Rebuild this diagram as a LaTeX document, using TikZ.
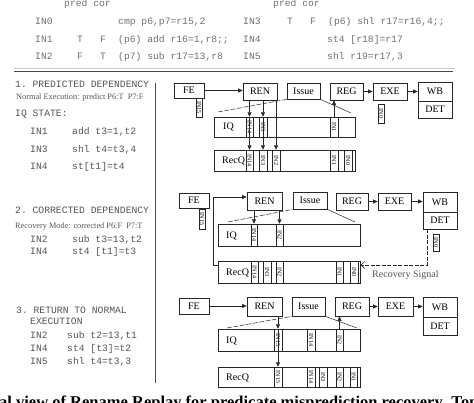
\documentclass[tikz,border=0pt]{standalone}
\usepackage{fontspec}
\usepackage{graphicx}
\setmainfont{Liberation Serif}
\setmonofont{Liberation Mono}
\usetikzlibrary{arrows.meta}
\definecolor{topgray}{HTML}{707070}
\definecolor{txtgray}{HTML}{555555}
\definecolor{boxline}{HTML}{262626}
\newcommand\bx[7]{\node[#1, minimum width={(#5-#3)*1pt}, minimum height={(#6-#4)*1pt}] (#2) at ({(#3+#5)/2},{(#4+#6)/2}) {#7};}
\newcommand\qslot[6]{\node[slot, minimum width={(#4-#2)*1pt}, minimum height={(#5-#3)*1pt}] (#1) at ({(#2+#4)/2},{(#3+#5)/2}) {\rotatebox{-90}{#6}};}
\tikzset{
  stage/.style={draw=boxline, line width=0.7pt, inner sep=0pt, font=\fontsize{10}{10}\selectfont},
  queue/.style={draw=boxline, line width=0.7pt, inner sep=0pt},
  qlabel/.style={anchor=west, inner sep=0pt, font=\fontsize{10}{10}\selectfont},
  slot/.style={draw=boxline, line width=0.5pt, inner sep=0pt, fill=white, font=\fontsize{6}{6}\selectfont},
  arr/.style={line width=0.6pt, draw=boxline, -{Triangle[length=4.5pt,width=4pt]}},
  funnel/.style={line width=0.5pt, draw=boxline},
  dfunnel/.style={line width=0.5pt, draw=boxline, dash pattern=on 5pt off 1.5pt},
  toptxt/.style={font=\ttfamily\fontsize{9.7}{10}\selectfont, text=topgray, inner sep=0pt, anchor=base west},
  lefttxt/.style={font=\ttfamily\fontsize{9.7}{10}\selectfont, text=txtgray, inner sep=0pt, anchor=base west},
  smalltxt/.style={font=\fontsize{8.3}{9}\selectfont, text=txtgray, inner sep=0pt, anchor=base west},
}
\begin{document}
\begin{tikzpicture}[x=1pt,y=-1pt]
\useasboundingbox (0,0) rectangle (474,402);
\fill[white] (0,0) rectangle (474,402);

% ---------- top code listing ----------
\node[toptxt] (pc1) at (64,6) {pred cor};
\node[toptxt] (pc2) at (273,6) {pred cor};
\node[toptxt] (t0) at (35,24.5) {IN0};
\node[toptxt] (t0c) at (118,24.5) {cmp p6,p7=r15,2};
\node[toptxt] (t1) at (35,42) {IN1};
\node[toptxt] (t1p) at (77,42) {T};
\node[toptxt] (t1q) at (100,42) {F};
\node[toptxt] (t1c) at (118,42) {(p6) add r16=1,r8;;};
\node[toptxt] (t2) at (35,59) {IN2};
\node[toptxt] (t2p) at (77,59) {F};
\node[toptxt] (t2q) at (100,59) {T};
\node[toptxt] (t2c) at (118,59) {(p7) sub r17=13,r8};
\node[toptxt] (t3) at (243,24.5) {IN3};
\node[toptxt] (t3p) at (287,24.5) {T};
\node[toptxt] (t3q) at (310,24.5) {F};
\node[toptxt] (t3c) at (328,24.5) {(p6) shl r17=r16,4;;};
\node[toptxt] (t4) at (243,42) {IN4};
\node[toptxt] (t4c) at (327,42) {st4 [r18]=r17};
\node[toptxt] (t5) at (243,59) {IN5};
\node[toptxt] (t5c) at (327,59) {shl r19=r17,3};
\coordinate (gl1) at (14,68);
\coordinate (gl2) at (455,68);
\draw[gray!45, line width=0.6pt] (gl1) -- (gl2);
\coordinate (dl1) at (14,71.5);
\coordinate (dl2) at (453,71.5);
\draw[boxline!85, line width=1.3pt] (dl1) -- (dl2);
\coordinate (vl1) at (155,83);
\coordinate (vl2) at (155,383);
\draw[boxline!80, line width=0.9pt] (vl1) -- (vl2);

% ---------- left panels ----------
\node[lefttxt] (h1) at (15,87) {1. PREDICTED DEPENDENCY};
\node[smalltxt] (s1) at (16,99.5) {Normal Execution: predict P6:T\enspace P7:F};
\node[lefttxt] (h1b) at (15,116) {IQ STATE:};
\node[lefttxt] (a1) at (30,134.5) {IN1};
\node[lefttxt] (a1c) at (72,134.5) {add t3=1,t2};
\node[lefttxt] (a2) at (30,152) {IN3};
\node[lefttxt] (a2c) at (72,152) {shl t4=t3,4};
\node[lefttxt] (a3) at (30,169) {IN4};
\node[lefttxt] (a3c) at (72,169) {st[t1]=t4};

\node[lefttxt] (h2) at (15,213.5) {2. CORRECTED DEPENDENCY};
\node[smalltxt] (s2) at (15,228.5) {Recovery Mode: corrected P6:F\enspace P7:T};
\node[lefttxt] (b1) at (30,242) {IN2};
\node[lefttxt] (b1c) at (72,242) {sub t3=13,t2};
\node[lefttxt] (b2) at (30,254.5) {IN4};
\node[lefttxt] (b2c) at (72,254.5) {st4 [t1]=t3};

\node[lefttxt] (h3) at (16,313) {3. RETURN TO NORMAL};
\node[lefttxt] (h3b) at (30,324) {EXECUTION};
\node[lefttxt] (c1) at (30,338) {IN2};
\node[lefttxt] (c1c) at (67,338) {sub t2=13,t1};
\node[lefttxt] (c2) at (30,351) {IN4};
\node[lefttxt] (c2c) at (67,351) {st4 [t3]=t2};
\node[lefttxt] (c3) at (30,364.5) {IN5};
\node[lefttxt] (c3c) at (67,364.5) {shl t4=t3,3};

% ---------- diagram 1 ----------
\bx{stage}{fe1}{174}{83}{204}{98}{FE}
\bx{stage}{ren1}{243}{83}{277}{100}{REN}
\bx{stage}{iss1}{287}{83}{320}{99}{Issue}
\bx{stage}{reg1}{330}{83}{363}{100}{REG}
\bx{stage}{exe1}{373}{83}{407}{100}{EXE}
\bx{stage}{wb1}{418}{82}{452}{101}{WB}
\bx{stage}{det1}{418}{101}{452}{118}{DET}
\qslot{in15a}{196}{98}{202}{117}{IN15}
\qslot{in0a}{378}{104}{384}{123}{IN0}
\bx{queue}{iq1}{214}{117}{355}{137}{}
\node[qlabel] (iq1l) at (223,127) {IQ};
\bx{queue}{rq1}{214}{150}{355}{171}{}
\node[qlabel] (rq1l) at (222,160.5) {RecQ};
\qslot{iq1s14}{246}{117}{253}{137}{IN14}
\qslot{iq1s3}{259}{117}{267}{137}{IN3}
\qslot{iq1s1}{330}{117}{338}{137}{IN1}
\qslot{rq1s14}{246}{150}{253}{171}{IN14}
\qslot{rq1s3}{259}{150}{267}{171}{IN3}
\qslot{rq1s2}{272}{150}{280}{171}{IN2}
\qslot{rq1s1}{330}{150}{338}{171}{IN1}
\qslot{rq1s0}{344}{150}{352}{171}{IN0}
\draw[arr] (fe1.east) -- (fe1.east -| ren1.west);
\draw[arr] (reg1.east) -- (exe1.west);
\draw[arr] (exe1.east) -- (exe1.east -| wb1.west);
\draw[arr] (ren1.south -| iq1s14) -- (iq1s14.north);
\draw[arr] (iq1s14.north) -- (rq1s14.north);
\draw[arr] (ren1.south -| iq1s3) -- (iq1s3.north);
\draw[arr] (iq1s3.north) -- (rq1s3.north);
\draw[arr] (ren1.south -| rq1s2) -- (rq1s2.north);
\draw[arr] (iq1s1.north) -- (iq1s1.north |- reg1.south);
\coordinate (f1l) at (218,112);
\coordinate (f1r) at (351,113);
\draw[dfunnel] (f1l) -- (iss1.south west);
\draw[funnel] (iss1.south east) -- (f1r);

% ---------- diagram 2 ----------
\bx{stage}{fe2}{179}{193}{209}{208}{FE}
\bx{stage}{ren2}{247}{192}{282}{210}{REN}
\bx{stage}{iss2}{293}{192}{327}{209}{Issue}
\bx{stage}{reg2}{336}{193}{368}{210}{REG}
\bx{stage}{exe2}{378}{193}{411}{210}{EXE}
\bx{stage}{wb2}{423}{192}{457}{212}{WB}
\bx{stage}{det2}{423}{212}{457}{229}{DET}
\qslot{in15b}{199}{209}{205}{229}{IN15}
\qslot{in0b}{433}{234}{439}{251}{IN0}
\bx{queue}{iq2}{218}{224}{360}{246}{}
\node[qlabel] (iq2l) at (226,236) {IQ};
\bx{queue}{rq2}{218}{261}{360}{283}{}
\node[qlabel] (rq2l) at (226,272.5) {RecQ};
\qslot{iq2s14}{251}{224}{257}{246}{IN14}
\qslot{iq2s2}{276}{224}{283}{246}{IN2}
\qslot{rq2s14}{251}{261}{258}{283}{IN14}
\qslot{rq2s3}{263}{261}{271}{283}{IN3}
\qslot{rq2s2}{276}{261}{283}{283}{IN2}
\qslot{rq2s1}{336}{261}{343}{283}{IN1}
\qslot{rq2s0}{350}{261}{358}{283}{IN0}
\draw[arr] (reg2.east) -- (exe2.west);
\draw[arr] (exe2.east) -- (exe2.east -| wb2.west);
\draw[arr] (ren2.south -| iq2s14) -- (iq2s14.north);
\draw[arr] (ren2.south -| iq2s2) -- (iq2s2.north);
\coordinate (l2a) at (213,265);
\coordinate (l2b) at (213,197);
\draw[arr] (rq2.west |- l2a) -- (l2a) -- (l2b) -- (l2b -| ren2.west);
\coordinate (r2a) at (427,265);
\draw[line width=0.6pt, draw=boxline, dash pattern=on 4pt off 1.5pt, -{Straight Barb[length=4pt,width=7pt]}] (det2.south -| r2a) -- (r2a) -- (r2a -| rq2.east);
\node[anchor=west, inner sep=0pt, font=\fontsize{10}{10}\selectfont, text=txtgray] (recsig) at (372,275.5) {Recovery Signal};
\coordinate (f2l) at (228,222);
\coordinate (f2r) at (355,222);
\draw[dfunnel] (f2l) -- (iss2.south west);
\draw[funnel] (iss2.south east) -- (f2r);

% ---------- diagram 3 ----------
\bx{stage}{fe3}{179}{298}{209}{314}{FE}
\bx{stage}{ren3}{247}{297}{282}{316}{REN}
\bx{stage}{iss3}{292}{297}{325}{316}{Issue}
\bx{stage}{reg3}{335}{297}{369}{316}{REG}
\bx{stage}{exe3}{378}{297}{413}{316}{EXE}
\bx{stage}{wb3}{423}{297}{457}{317}{WB}
\bx{stage}{det3}{423}{317}{457}{335}{DET}
\bx{queue}{iq3}{218}{329}{360}{351}{}
\node[qlabel] (iq3l) at (226,341) {IQ};
\bx{queue}{rq3}{218}{367}{360}{387}{}
\node[qlabel] (rq3l) at (226,377.5) {RecQ};
\qslot{iq3s15}{274}{329}{282}{351}{IN15}
\qslot{iq3s14}{307}{329}{315}{351}{IN14}
\qslot{iq3s2}{336}{329}{343}{351}{IN2}
\qslot{rq3s15}{274}{367}{282}{387}{IN15}
\qslot{rq3s14}{307}{367}{315}{387}{IN14}
\qslot{rq3s3}{319}{367}{327}{387}{IN3}
\qslot{rq3s2}{336}{367}{343}{387}{IN2}
\qslot{rq3s1}{350}{367}{357}{387}{IN1}
\draw[arr] (fe3.east) -- (fe3.east -| ren3.west);
\draw[arr] (reg3.east) -- (exe3.west);
\draw[arr] (exe3.east) -- (exe3.east -| wb3.west);
\draw[arr] (ren3.south -| iq3s15) -- (iq3s15.north);
\draw[arr] (iq3s15.north) -- (rq3s15.north);
\draw[arr] (iq3s2.north) -- (iq3s2.north |- reg3.south);
\coordinate (f3l) at (227,328);
\coordinate (f3r) at (357,328);
\draw[dfunnel] (f3l) -- (iss3.south west);
\draw[funnel] (iss3.south east) -- (f3r);

% ---------- cut-off caption ----------
\node[anchor=base west, inner sep=0pt, font=\bfseries\fontsize{16.5}{17}\selectfont] (cap) at (-1,407.5) {al view of Rename Replay for predicate misprediction recovery. Top figure};
\end{tikzpicture}
\end{document}
